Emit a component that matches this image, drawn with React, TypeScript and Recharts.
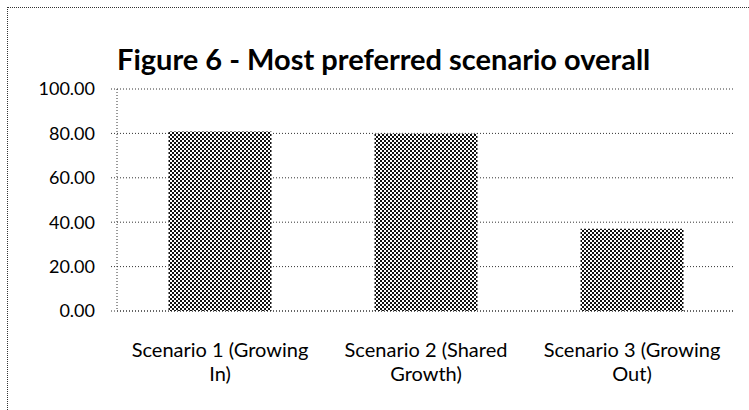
import React from 'react'
import { BarChart, Bar, XAxis, YAxis, CartesianGrid } from 'recharts'

const categories = ['Scenario 1 (Growing In)', 'Scenario 2 (Shared Growth)', 'Scenario 3 (Growing Out)']
const preferred = [80.8, 79.8, 37.1]
const yTicks = [0, 20, 40, 60, 80, 100]
const edgeTicks = [0, 1, 2, 3]

const data = categories.map((name, i) => ({ name, value: preferred[i] }))

const FONT = 'Lato, "Open Sans", sans-serif'
const DOTS = '1 2'

// two-line category label, broken at the last space
function CategoryTick(props: any) {
  const { x, y, payload } = props
  const text: string = payload.value
  const cut = text.lastIndexOf(' ')
  const lines = [text.slice(0, cut), text.slice(cut + 1)]
  return (
    <g transform={`translate(${x},${y})`}>
      {lines.map((line, i) => (
        <text
          key={i}
          x={0}
          y={0}
          dy={38 + i * 24}
          textAnchor="middle"
          fill="#000"
          fontSize={20}
          fontFamily={FONT}
        >
          {line}
        </text>
      ))}
    </g>
  )
}

export default function App() {
  return (
    <div style={{ position: 'absolute', left: 0, top: 0, width: 749, height: 410, background: '#fff' }}>
      <div
        style={{
          position: 'absolute',
          left: 7,
          top: 7,
          right: 0,
          bottom: 0,
          borderTop: '1px dotted #333',
          borderLeft: '1px dotted #333',
        }}
      />
      <div
        style={{
          position: 'absolute',
          left: 117,
          top: 41,
          fontFamily: FONT,
          fontWeight: 700,
          fontSize: 29,
          color: '#000',
          whiteSpace: 'nowrap',
        }}
      >
        Figure 6 - Most preferred scenario overall
      </div>
      <BarChart
        width={749}
        height={410}
        data={data}
        margin={{ top: 89, right: 14, left: 0, bottom: 38 }}
        barCategoryGap="25%"
        style={{ position: 'absolute', left: 0, top: 0 }}
      >
        <defs>
          <pattern id="checker" width={4} height={4} patternUnits="userSpaceOnUse">
            <rect width={4} height={4} fill="#fff" />
            <rect x={0} y={0} width={2} height={2} fill="#111" />
            <rect x={2} y={2} width={2} height={2} fill="#111" />
          </pattern>
        </defs>
        <CartesianGrid vertical={false} stroke="#333" strokeDasharray={DOTS} />
        <XAxis
          xAxisId="edges"
          type="number"
          domain={[0, 3]}
          ticks={edgeTicks}
          height={1}
          axisLine={false}
          tick={false}
          tickSize={5}
          tickLine={{ stroke: '#333', strokeDasharray: DOTS }}
        />
        <XAxis
          dataKey="name"
          height={60}
          tickLine={false}
          axisLine={{ stroke: '#333', strokeDasharray: DOTS }}
          tick={<CategoryTick />}
          interval={0}
        />
        <YAxis
          width={117}
          domain={[0, 100]}
          ticks={yTicks}
          tickFormatter={(v: number) => v.toFixed(2)}
          tickSize={6}
          tickMargin={16}
          tickLine={{ stroke: '#333', strokeDasharray: DOTS }}
          axisLine={{ stroke: '#333', strokeDasharray: DOTS }}
          tick={{ fill: '#000', fontSize: 18, fontFamily: FONT }}
        />
        <Bar dataKey="value" fill="url(#checker)" isAnimationActive={false} />
      </BarChart>
    </div>
  )
}
